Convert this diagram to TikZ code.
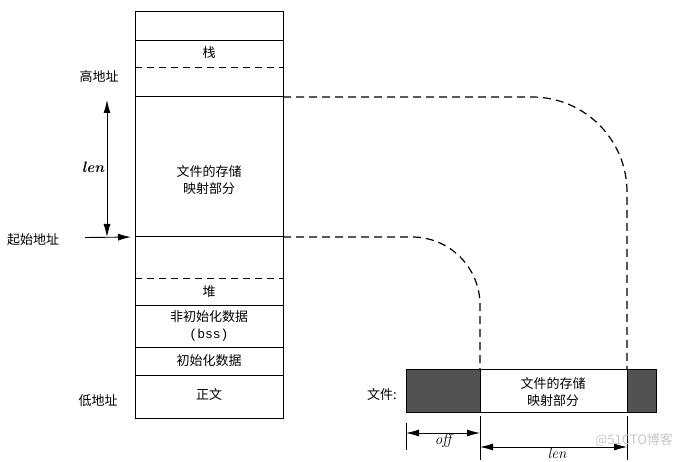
\documentclass[tikz,border=0pt]{standalone}
\usepackage{fontspec}
\newfontfamily\cjk{Noto Sans CJK SC}
\newfontfamily\monof{Liberation Mono}
\usetikzlibrary{arrows.meta}
\begin{document}
\begin{tikzpicture}[x=1pt,y=-1pt,
  cell/.style={draw, line width=1pt, minimum width=148pt, inner sep=0pt, outer sep=0pt},
  dark/.style={draw, line width=1pt, fill=black!68, inner sep=0pt, outer sep=0pt, minimum height=43pt},
  white/.style={draw, line width=1pt, fill=white, inner sep=0pt, outer sep=0pt, minimum height=43pt},
  lbl/.style={font=\cjk\fontsize{13}{17}\selectfont, inner sep=1pt, align=center},
  sepline/.style={line width=1pt, dash pattern=on 7pt off 5pt},
  conn/.style={line width=1.2pt, dash pattern=on 8pt off 5pt},
  dimarrow/.style={line width=0.9pt, {Latex[length=13pt,width=7pt]}-{Latex[length=13pt,width=7pt]}},
  onearrow/.style={line width=0.9pt, -{Latex[length=13pt,width=7pt]}},
  tick/.style={line width=0.7pt},
  it/.style={font=\itshape\fontsize{15}{17}\selectfont, inner sep=1pt}
]
\useasboundingbox (0,0) rectangle (693,462);

% memory column
\node[cell, minimum height=29pt] (c0) at (209,26.5) {};
\node[cell, minimum height=56pt] (c1) at (209,69) {};
\node[cell, minimum height=140pt] (c2) at (209,167) {};
\node[cell, minimum height=68pt] (c3) at (209,271) {};
\node[cell, minimum height=42pt] (c4) at (209,326) {};
\node[cell, minimum height=28pt] (c5) at (209,361) {};
\node[cell, minimum height=43pt] (c6) at (209,396.5) {};

\draw[sepline] (135,68) -- (283,68);
\draw[sepline] (135,279) -- (283,279);

\node[lbl] (tstack) at (209,53) {栈};
\node[lbl] (tmap) at (209,180) {文件的存储\\映射部分};
\node[lbl] (theap) at (209,292) {堆};
\node[lbl] (tbss) at (209,326) {非初始化数据\\{\monof (bss)}};
\node[lbl] (tinit) at (209,361) {初始化数据};
\node[lbl] (ttext) at (209,395) {正文};

\node[lbl] (hi) at (99,77) {高地址};
\node[lbl] (lo) at (98,401) {低地址};
\node[lbl] (start) at (33,240) {起始地址};

% len arrow (left)
\coordinate (lentop) at (107,100);
\coordinate (lenbot) at (107,237);
\draw[dimarrow] (lentop) -- (lenbot);
\node[font=\bfseries\itshape\fontsize{15}{17}\selectfont, inner sep=1pt] (lenl) at (93,167) {len};

% start address arrow
\coordinate (sa) at (85,237.5);
\draw[onearrow, shorten >=4pt] (sa) -- (c3.north west);

% file bar
\node[dark, minimum width=74pt] (bl) at (443,390.5) {};
\node[white, minimum width=147pt] (bw) at (553.5,390.5) {};
\node[dark, minimum width=29pt] (br) at (641.5,390.5) {};
\node[lbl] (tfile) at (382,395) {文件:};
\node[lbl] (tbar) at (553,392) {文件的存储\\映射部分};

% dashed mapping connectors
\draw[conn, rounded corners=95pt] (c2.north east) -| (br.north west);
\draw[conn, rounded corners=68pt] (c3.north east) -| (bw.north west);

% dimension lines
\draw[tick] ([yshift=-11pt]bl.south west) -- ([yshift=-38pt]bl.south west);
\draw[tick] ([yshift=-4pt]bw.south west) -- ([yshift=-48pt]bw.south west);
\draw[tick] ([yshift=-4pt]br.south west) -- ([yshift=-48pt]br.south west);
\coordinate (offL) at (406,433);
\coordinate (offR) at (480,433);
\coordinate (lenL) at (480,447);
\coordinate (lenR) at (627,447);
\draw[dimarrow] (offL) -- (offR);
\draw[dimarrow] (lenL) -- (lenR);
\node[it] (offl) at (443,441) {off};
\node[it] (lenb) at (557,453) {len};

% watermark
\node[font=\cjk\fontsize{13}{15}\selectfont, text=black!22, inner sep=0pt] (wm) at (634,440) {@51CTO博客};
\end{tikzpicture}
\end{document}
